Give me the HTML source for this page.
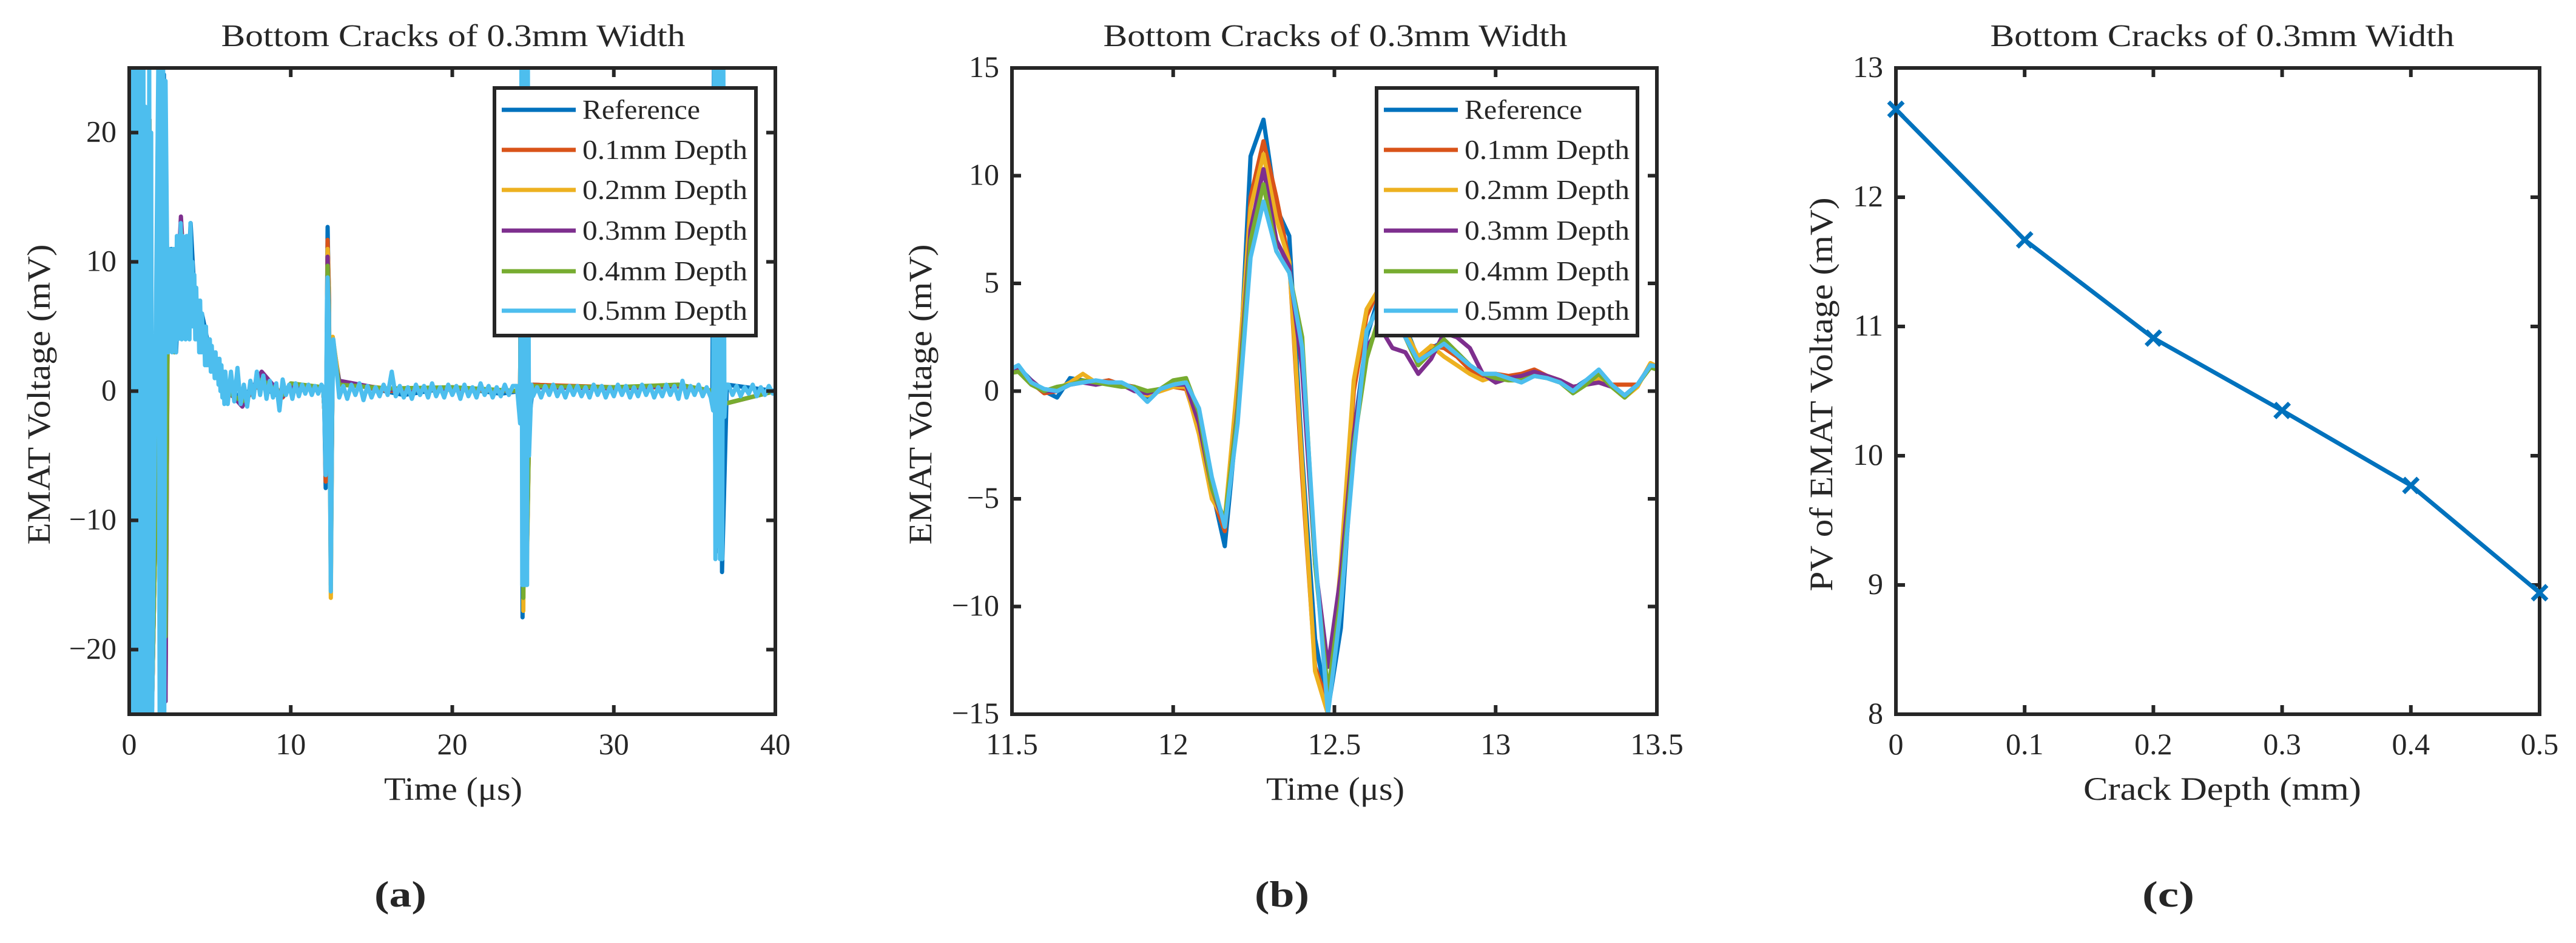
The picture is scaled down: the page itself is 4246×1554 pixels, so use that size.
<!DOCTYPE html>
<html><head><meta charset="utf-8"><style>
html,body{margin:0;padding:0;background:#fff}
svg{display:block}
text{font-family:"Liberation Serif",serif;fill:#262626}
</style></head><body>
<svg id="fig" width="4246" height="1554" viewBox="0 0 4246 1554" xmlns="http://www.w3.org/2000/svg">
<defs>
<clipPath id="clipA"><rect x="213" y="112" width="1065" height="1065"/></clipPath>
<clipPath id="clipB"><rect x="1668" y="112" width="1063" height="1065"/></clipPath>
<clipPath id="clipC"><rect x="3110" y="100" width="1100" height="1090"/></clipPath>
</defs>
</svg>
<script>
const colors=["#0072BD","#D95319","#EDB120","#7E2F8E","#77AC30","#4DBEEE"];
const seriesNames=["Reference","0.1mm Depth","0.2mm Depth","0.3mm Depth","0.4mm Depth","0.5mm Depth"];

// ---- Panel (a) data ----
const aT0=[0,0.05,0.12,0.2,0.28,0.36,0.44,0.52,0.6,0.68,0.76,0.84,0.92,1.0,1.08,1.16,1.24,1.32,1.4,2.15,2.25,2.35,2.6,2.9,3.2,3.5,3.8,4.1,4.5,5,5.6,6.2,7,8,9,10,11,12.0,12.08,12.16,12.28,12.36,12.48,12.6,13,15,17,20,23,24.2,24.3,24.35,24.45,24.55,24.7,25,30,34,36.1,36.2,36.3,36.4,36.5,36.6,36.7,37,40];
const aV0=[5,25,-25,25,-25,25,-25,25,-25,25,-25,24,-25,21.5,-25,21.5,-25,5,-25,24.5,-24,10,11,3,12,5,13,6,6,3,1.5,0,-0.5,0.8,-0.3,0.3,0.2,0.3,-1.5,-7.5,12.7,7,-15,4,0.8,0.2,-0.3,0.3,-0.2,0,25,-17.5,25,-15,-3,0.5,0.2,0.5,0,25,-12.5,25,-10,25,-14,0.5,0];
const aT1=[0,0.1,0.2,0.35,0.5,0.65,0.8,0.95,1.1,1.25,1.4,2.15,2.25,2.4,2.8,3.2,3.6,4.2,5,6,7,8.2,9.5,10,12.0,12.1,12.16,12.28,12.36,12.48,12.6,13,16,20,24.2,24.3,24.4,24.5,24.6,24.8,30,34,36.2,36.3,36.45,36.6,36.8,40];
const aV1=[4,25,-24,25,-25,25,-25,22,-24,21,-25,23,-22,9,4,11,5,6,3,0,-1,0.8,-0.5,0.4,0.3,-2,-7,11.7,8,-14,4,0.7,0,0.2,0,25,-16,25,-14,0.5,0.3,0.4,0,25,-12,25,-1,0];
const aT2=[0,0.1,0.2,0.35,0.5,0.65,0.8,0.95,1.1,1.25,1.4,2.15,2.25,2.4,2.8,3.2,3.6,4.2,5,6,7,8.2,9.5,10,12.0,12.1,12.16,12.28,12.36,12.48,12.6,13,16,20,24.2,24.3,24.4,24.5,24.6,24.8,30,34,36.2,36.3,36.45,36.6,36.8,40];
const aV2=[4,25,-25,25,-24,25,-25,22,-25,21,-25,23,-22,9,4,12,5,6,3,0.3,-1,1.2,-0.2,0.5,0.3,-2,-6.5,11,8,-16,4.2,0.6,0.2,0.1,0,25,-17,25,-15,0.4,0.2,0.3,0,25,-10,25,-1,0];
const aT3=[0,0.1,0.2,0.35,0.5,0.65,0.8,0.95,1.1,1.25,1.4,2.15,2.25,2.4,2.8,3.2,3.6,4.2,5,6,7,8.2,9.5,10,12.0,12.1,12.16,12.28,12.36,12.48,12.6,13,16,20,24.2,24.3,24.4,24.5,24.6,24.8,30,34,36.2,36.3,36.45,36.6,36.8,40];
const aV3=[4,24,-25,25,-25,25,-24,22,-25,21,-25,23.5,-24,9,3,13.5,5,6,2.5,0.2,-1.2,1.5,-0.4,0.4,0.3,-2,-6.5,10.4,7,-13,3,0.8,0.1,0.2,0,25,-15,25,-14,0.3,0.2,0.4,0,25,-12,25,-1,0];
const aT4=[0,0.1,0.2,0.35,0.5,0.65,0.8,0.95,1.1,1.25,1.4,2.15,2.25,2.4,2.8,3.2,3.6,4.2,5,6,7,8.2,9.5,10,12.0,12.1,12.16,12.28,12.36,12.48,12.6,13,16,20,24.2,24.3,24.4,24.5,24.6,24.8,30,34,36.2,36.3,36.45,36.6,36.8,40];
const aV4=[4,25,-25,25,-25,24,-25,22,-20,21,-25,23,-19,9,3,12.5,5,6.5,3,0,-0.8,0.9,-0.3,0.6,0.3,-2,-6,9.7,6.5,-14,3.5,0.5,0.2,0.3,0,25,-16,25,-14.5,0.4,0.3,0.5,0,25,-11,25,-1,0];
// light-blue (0.5mm) series, in time segments
const aT5s1=[0,0.04,0.1,0.16,0.22,0.28,0.34,0.4,0.46,0.52,0.58,0.64,0.7,0.76,0.82,0.88,0.94,1.0,1.06,1.12,1.18,1.24,1.3,1.36,1.42,1.8,1.88,1.95,2.02,2.1,2.17,2.25];
const aV5s1=[0,25,-25,25,-25,25,-25,25,-25,25,-25,25,-25,25,-25,25,-25,22,-25,21,-25,25,-25,20,-25,25,-25,25,-25,25,-25,24];
const aT5s2=[2.35,2.41,2.47,2.53,2.59,2.65,2.71,2.77,2.83,2.89,2.95,3.01,3.07,3.13,3.19,3.25,3.31,3.37,3.43,3.49,3.55,3.61,3.67,3.73,3.79,3.85,3.91,3.97,4.03,4.09,4.15,4.21,4.27,4.33,4.39,4.45,4.51,4.57,4.63,4.69,4.75,4.81,4.87,4.93,4.99,5.05,5.11,5.17,5.23,5.29,5.35,5.41,5.47,5.53,5.59,5.65,5.71,5.77,5.83,5.89,5.95];
const aV5s2=[10,3,11,5,10,3,11,4,11,3,12,4,12,5,13,4,12,5,11,4,12,5,12,4,13,5,10,5,9,4,8,4,7,3,7,3,6,3,5,2,5,2,4,2,4,1.5,3.5,1.5,3,1,3,1,2.5,0.5,2.5,0,2,-0.5,1.5,-1,1.5];
const aT5s3=[6.1,6.3,6.5,6.7,6.9,7.1,7.3,7.5,7.7,7.9,8.1,8.3,8.5,8.7,8.9,9.1,9.3,9.5,9.7,9.9,10.1,10.3,10.5,10.7,10.9,11.1,11.3,11.5,11.7,11.9];
const aV5s3=[-1,1.5,-0.8,1.8,-1,0.5,-1.2,0.8,-0.5,1.5,-0.3,1.2,-0.6,0.8,-0.5,0.6,-1.5,0.9,-0.3,0.5,-0.6,0.6,-0.4,0.5,-0.2,0.5,-0.3,0.4,-0.2,0.5];
const aT5s4=[12.0,12.08,12.16,12.24,12.28,12.36,12.48,12.56,12.64,12.8,12.9];
const aV5s4=[0.3,-1.5,-6.5,7,8.8,6,-15.5,-2,4,2,0.8];
const aT5s5=[13,13.25,13.5,13.75,14,14.25,14.5,14.75,15,15.25,15.5,15.75,16,16.25,16.5,16.75,17,17.25,17.5,17.75,18,18.25,18.5,18.75,19,19.25,19.5,19.75,20,20.25,20.5,20.75,21,21.25,21.5,21.75,22,22.25,22.5,22.75,23,23.25,23.5,23.75];
const aV5s5=[-0.5,0.4,-0.6,0.5,-0.3,0.6,-0.7,0.4,-0.5,0.3,-0.4,0.5,-0.3,1.5,-0.4,0.4,-0.5,0.3,-0.6,0.5,-0.3,0.4,-0.5,0.6,-0.4,0.3,-0.5,0.5,-0.3,0.4,-0.6,0.5,-0.4,0.3,-0.5,0.6,-0.3,0.4,-0.5,0.3,-0.4,0.5,-0.3,0.4];
const aT5s6=[24.0,24.2,24.28,24.33,24.38,24.43,24.48,24.53,24.58,24.63,24.68,24.75,24.9];
const aV5s6=[0.4,-2.5,25,-15,25,-15,25,-15,25,-15,25,-5,0.5];
const aT5s7=[25,25.25,25.5,25.75,26,26.25,26.5,26.75,27,27.25,27.5,27.75,28,28.25,28.5,28.75,29,29.25,29.5,29.75,30,30.25,30.5,30.75,31,31.25,31.5,31.75,32,32.25,32.5,32.75,33,33.25,33.5,33.75,34,34.25,34.5,34.75,35,35.25,35.5,35.75];
const aV5s7=[-0.4,0.3,-0.5,0.4,-0.3,0.5,-0.4,0.3,-0.5,0.4,-0.3,0.4,-0.4,0.3,-0.5,0.5,-0.3,0.4,-0.5,0.3,-0.4,0.5,-0.3,0.4,-0.5,0.3,-0.4,0.5,-0.3,0.4,-0.5,0.3,-0.4,0.5,-0.3,0.4,-0.6,0.8,-0.5,0.4,-0.3,0.5,-0.4,0.3];
const aT5s8=[36.0,36.15,36.22,36.29,36.36,36.43,36.5,36.57,36.64,36.71,36.78,36.85,36.95];
const aV5s8=[-0.5,-1.5,25,-13,25,-12,25,-13,25,-13,25,-2,0.5];
const aT5s9=[37.1,37.35,37.6,37.85,38.1,38.35,38.6,38.85,39.1,39.35,39.6,39.85,40];
const aV5s9=[0.5,-0.3,0.4,-0.4,0.3,-0.2,0.5,-0.4,0.3,-0.3,0.4,-0.2,0];
const aT5=[].concat(aT5s1,aT5s2,aT5s3,aT5s4,aT5s5,aT5s6,aT5s7,aT5s8,aT5s9);
const aV5=[].concat(aV5s1,aV5s2,aV5s3,aV5s4,aV5s5,aV5s6,aV5s7,aV5s8,aV5s9);
const aTicksX=[0,10,20,30,40];
const aTicksY=[-20,-10,0,10,20];

// ---- Panel (b) data ----
const bT=[11.48,11.52,11.56,11.6,11.64,11.68,11.72,11.76,11.8,11.84,11.88,11.92,11.96,12.0,12.04,12.08,12.12,12.16,12.2,12.24,12.28,12.32,12.36,12.4,12.44,12.48,12.52,12.56,12.6,12.64,12.68,12.72,12.76,12.8,12.84,12.88,12.92,12.96,13.0,13.04,13.08,13.12,13.16,13.2,13.24,13.28,13.32,13.36,13.4,13.44,13.48,13.52];
const bV0=[0.9,1.1,0.5,0.0,-0.3,0.6,0.5,0.3,0.5,0.3,0.2,-0.4,0.1,0.3,0.3,-1.5,-4.5,-7.2,-1.0,10.9,12.6,8.5,7.2,-3.0,-11.5,-14.8,-11.0,-2.0,2.5,4.5,4.0,3.0,1.5,2.0,2.3,1.8,1.2,0.8,0.8,0.6,0.7,0.8,0.6,0.4,0.1,0.5,0.8,0.3,-0.2,0.3,1.2,1.0];
const bV1=[0.8,1.0,0.4,-0.1,0.0,0.3,0.5,0.4,0.5,0.3,0.2,-0.2,0.0,0.2,0.1,-1.8,-4.8,-6.5,-0.5,9.0,11.6,9.0,6.0,-4.0,-12.8,-14.5,-9.0,0.0,3.5,4.8,4.0,2.5,1.2,2.1,2.0,1.6,1.0,0.7,0.8,0.7,0.8,1.0,0.7,0.5,0.2,0.3,0.5,0.3,0.3,0.3,1.1,1.0];
const bV2=[0.8,1.0,0.4,0.0,0.1,0.4,0.8,0.4,0.4,0.3,0.1,-0.2,0.0,0.2,0.2,-2.0,-5.0,-6.0,0.5,8.5,11.0,8.0,6.0,-3.5,-13.0,-15.0,-8.0,0.5,3.8,4.8,3.8,2.8,1.6,2.1,1.6,1.2,0.8,0.5,0.7,0.6,0.5,0.8,0.7,0.4,0.0,0.3,0.6,0.2,-0.3,0.2,1.3,1.0];
const bV3=[0.9,1.0,0.5,0.0,0.0,0.3,0.4,0.3,0.4,0.3,0.0,-0.1,0.1,0.3,0.3,-1.5,-4.5,-6.2,-0.8,7.5,10.3,7.0,5.8,1.0,-8.0,-12.8,-8.5,-2.0,2.0,3.0,2.0,1.8,0.8,1.5,2.7,2.5,2.0,0.8,0.4,0.6,0.7,0.9,0.7,0.5,0.2,0.3,0.4,0.2,-0.2,0.3,1.2,1.1];
const bV4=[0.8,0.9,0.3,0.0,0.2,0.3,0.5,0.4,0.3,0.2,0.2,0.0,0.1,0.5,0.6,-1.0,-4.5,-6.0,-1.0,7.0,9.6,6.5,5.5,2.5,-8.0,-14.0,-9.5,-2.5,1.5,3.5,3.5,2.5,1.2,1.8,2.4,1.8,1.2,0.8,0.6,0.5,0.5,0.7,0.6,0.4,-0.1,0.3,0.8,0.2,-0.3,0.3,1.1,0.9];
const bV5=[0.9,1.2,0.4,0.1,0.0,0.3,0.4,0.5,0.4,0.4,0.1,-0.5,0.1,0.3,0.4,-0.8,-4.0,-6.3,-1.5,6.2,8.8,6.5,5.5,2.0,-7.5,-15.0,-10.0,-3.0,2.8,4.0,3.5,2.5,1.4,1.8,2.2,1.7,1.2,0.8,0.8,0.6,0.4,0.7,0.6,0.4,0.0,0.5,1.0,0.3,-0.2,0.3,1.2,1.1];
const bTicksX=[11.5,12,12.5,13,13.5];
const bTicksY=[-15,-10,-5,0,5,10,15];

// ---- Panel (c) data ----
const cDepth=[0,0.1,0.2,0.3,0.4,0.5];
const cPV=[12.68,11.67,10.91,10.35,9.77,8.94];
const cTicksX=[0,0.1,0.2,0.3,0.4,0.5];
const cTicksY=[8,9,10,11,12,13];

const NS="http://www.w3.org/2000/svg";
const svg=document.getElementById('fig');
const LW=7, AW=6;
function mk(tag,attrs,parent){const e=document.createElementNS(NS,tag);for(const k in attrs)e.setAttribute(k,attrs[k]);(parent||svg).appendChild(e);return e;}
function axis(L,R,T,B,x0,x1,y0,y1){return{L,R,T,B,sx:v=>L+(v-x0)/(x1-x0)*(R-L),sy:v=>B-(v-y0)/(y1-y0)*(B-T)};}
function pathD(ax,ts,vs){let d='';const n=Math.min(ts.length,vs.length);for(let i=0;i<n;i++){d+=(i?'L':'M')+ax.sx(ts[i]).toFixed(1)+' '+ax.sy(vs[i]).toFixed(1);}return d;}

function frame(ax,g,xt,yt,fmt){
  for(const v of xt){const x=ax.sx(v);
    const t1=mk('line',{x1:x,y1:ax.B,x2:x,y2:ax.B-15,stroke:'#262626','stroke-width':AW},g);
    
    const t2=mk('line',{x1:x,y1:ax.T,x2:x,y2:ax.T+15,stroke:'#262626','stroke-width':AW},g);
    
    const tx=mk('text',{x:x,y:ax.B+66,'font-size':50,'text-anchor':'middle'},g);tx.textContent=fmt(v);
    }
  for(const v of yt){const y=ax.sy(v);
    const t1=mk('line',{x1:ax.L,y1:y,x2:ax.L+15,y2:y,stroke:'#262626','stroke-width':AW},g);
    
    const t2=mk('line',{x1:ax.R,y1:y,x2:ax.R-15,y2:y,stroke:'#262626','stroke-width':AW},g);
    
    const tx=mk('text',{x:ax.L-21,y:y+15,'font-size':50,'text-anchor':'end'},g);tx.textContent=(v<0?'\u2212'+Math.abs(v):String(v));
    }
  const box=mk('rect',{x:ax.L,y:ax.T,width:ax.R-ax.L,height:ax.B-ax.T,fill:'none',stroke:'#262626','stroke-width':AW},g);
  
}
function label(g,x,y,txt,len,rot,name,size,bold){
  const a={x:x,y:y,'font-size':size||54,'text-anchor':'middle',textLength:len,lengthAdjust:'spacingAndGlyphs'};
  if(rot)a.transform='rotate(-90 '+x+' '+y+')';
  if(bold)a['font-weight']='bold';
  const t=mk('text',a,g);t.textContent=txt;
  return t;
}
function legend(g,L,T,R,B){
  const box=mk('rect',{x:L,y:T,width:R-L,height:B-T,fill:'#fff',stroke:'#262626','stroke-width':AW},g);
  
  const rows=[181,247,313,380,447,512];
  for(let i=0;i<6;i++){
    const ln=mk('line',{x1:L+12,y1:rows[i],x2:L+134,y2:rows[i],stroke:colors[i],'stroke-width':LW},g);
    
    const t=mk('text',{x:L+145,y:rows[i]+15,'font-size':46,textLength:(i==0?194:272),lengthAdjust:'spacingAndGlyphs'},g);
    t.textContent=seriesNames[i];
    
  }
}

// Panel a
const gA=mk('g',{});
const axA=axis(213,1278,112,1177,0,40,-25,25);
const aTs=[aT0,aT1,aT2,aT3,aT4,aT5],aVs=[aV0,aV1,aV2,aV3,aV4,aV5];
const cgA=mk('g',{'clip-path':'url(#clipA)'},gA);
for(let i=0;i<6;i++){const p=mk('path',{d:pathD(axA,aTs[i],aVs[i]),fill:'none',stroke:colors[i],'stroke-width':LW,'stroke-linejoin':'round'},cgA);
  }
frame(axA,gA,aTicksX,aTicksY,v=>String(v));
legend(gA,815,145,1246,553);
label(gA,747,76,'Bottom Cracks of 0.3mm Width',765,false,'chart-title-a',52);
label(gA,747,1318,'Time (\u03bcs)',228,false,'x-axis-title-a',54);
label(gA,82,650,'EMAT Voltage (mV)',495,true,'y-axis-title-a',54);
label(gA,660,1494,'(a)',86,false,'panel-label-a',60,true);

// Panel b
const gB=mk('g',{});
const axB=axis(1668,2731,112,1177,11.5,13.5,-15,15);
const bVs=[bV0,bV1,bV2,bV3,bV4,bV5];
const cgB=mk('g',{'clip-path':'url(#clipB)'},gB);
for(let i=0;i<6;i++){const p=mk('path',{d:pathD(axB,bT,bVs[i]),fill:'none',stroke:colors[i],'stroke-width':LW,'stroke-linejoin':'round'},cgB);
  }
frame(axB,gB,bTicksX,bTicksY,v=>String(v));
legend(gB,2269,145,2699,553);
label(gB,2201,76,'Bottom Cracks of 0.3mm Width',765,false,'chart-title-b',52);
label(gB,2201,1318,'Time (\u03bcs)',228,false,'x-axis-title-b',54);
label(gB,1535,650,'EMAT Voltage (mV)',495,true,'y-axis-title-b',54);
label(gB,2113,1494,'(b)',90,false,'panel-label-b',60,true);

// Panel c
const gC=mk('g',{});
const axC=axis(3125,4186,112,1177,0,0.5,8,13);
frame(axC,gC,cTicksX,cTicksY,v=>String(v));
const cgC=mk('g',{'clip-path':'url(#clipC)'},gC);
const pc=mk('path',{d:pathD(axC,cDepth,cPV),fill:'none',stroke:colors[0],'stroke-width':LW,'stroke-linejoin':'round'},cgC);

for(let i=0;i<cDepth.length;i++){const x=axC.sx(cDepth[i]),y=axC.sy(cPV[i]);
  const m=mk('path',{d:'M'+(x-12)+' '+(y-12)+'L'+(x+12)+' '+(y+12)+'M'+(x-12)+' '+(y+12)+'L'+(x+12)+' '+(y-12),stroke:colors[0],'stroke-width':LW},gC);
  }
label(gC,3663,76,'Bottom Cracks of 0.3mm Width',765,false,'chart-title-c',52);
label(gC,3663,1318,'Crack Depth (mm)',458,false,'x-axis-title-c',54);
label(gC,3020,650,'PV of EMAT Voltage (mV)',649,true,'y-axis-title-c',54);
label(gC,3574,1494,'(c)',86,false,'panel-label-c',60,true);
</script>
</body></html>
